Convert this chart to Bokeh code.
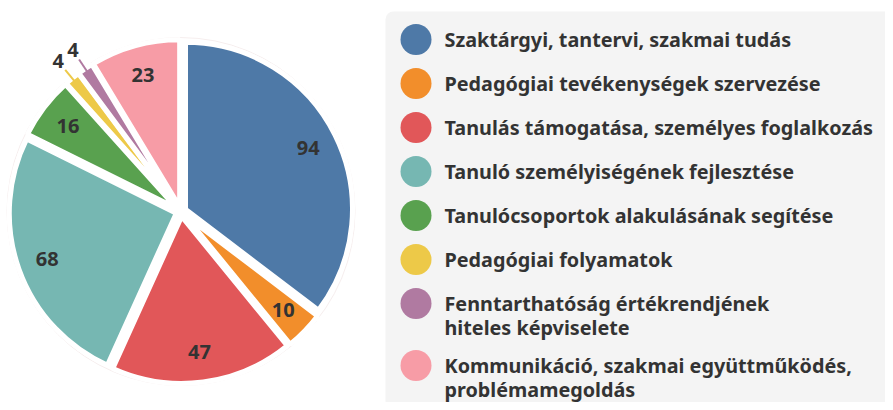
import numpy as np
from bokeh.plotting import figure
from bokeh.models import Range1d, BoxAnnotation, ColumnDataSource
from bokeh.core.properties import value
from bokeh.embed import file_html
from bokeh.resources import INLINE

categories = [
    "Szaktárgyi, tantervi, szakmai tudás",
    "Pedagógiai tevékenységek szervezése",
    "Tanulás támogatása, személyes foglalkozás",
    "Tanuló személyiségének fejlesztése",
    "Tanulócsoportok alakulásának segítése",
    "Pedagógiai folyamatok",
    "Fenntarthatóság értékrendjének\nhiteles képviselete",
    "Kommunikáció, szakmai együttműködés,\nproblémamegoldás",
]
values = [94, 10, 47, 68, 16, 4, 4, 23]
colors = ["#4e79a7", "#f28e2b", "#e15759", "#76b7b2", "#59a14f", "#edc948", "#b07aa1", "#f79ca6"]

W, H = 885, 402
p = figure(width=W, height=H, output_backend="svg", toolbar_location=None,
           x_range=Range1d(0, W), y_range=Range1d(410 - H, 410), min_border=0)
p.axis.visible = False
p.grid.visible = False
p.outline_line_color = None
p.background_fill_color = "white"

# geometry (y data = 410 - screen y)
cx, cy, R = 180.5, 410 - 211, 167
explode = 5
total = float(sum(values))
vals = np.array(values, dtype=float)
cum_end = np.cumsum(vals)
cum_start = cum_end - vals
a0 = np.pi / 2 - cum_start / total * 2 * np.pi
a1 = np.pi / 2 - cum_end / total * 2 * np.pi
mid = (a0 + a1) / 2
xs = cx + explode * np.cos(mid)
ys = cy + explode * np.sin(mid)

# faint outer ring
p.circle(x=[cx], y=[cy], radius=R + 7, fill_color=None, line_color="#f6eeee", line_width=1)

src = ColumnDataSource(dict(x=xs, y=ys, s=a0, e=a1, c=colors))
p.wedge(x="x", y="y", radius=R, start_angle="s", end_angle="e", direction="clock",
        fill_color="c", line_color="white", line_width=5, source=src)

# labels
inside = vals >= 10
lr = 142
lx = cx + lr * np.cos(mid)
ly = cy + lr * np.sin(mid)
p.text(x=lx[inside], y=ly[inside], text=[str(v) for v in np.array(values)[inside]],
       text_font=value("Noto Sans"), text_font_style="bold", text_font_size="20px",
       text_color="#333333", text_align="center", text_baseline="middle")

out = ~inside
r_lab = 194
ox = cx + r_lab * np.cos(mid[out])
oy = cy + r_lab * np.sin(mid[out])
p.text(x=ox, y=oy, text=[str(v) for v in np.array(values)[out]],
       text_font=value("Noto Sans"), text_font_style="bold", text_font_size="20px",
       text_color="#333333", text_align="center", text_baseline="middle")
oc = [c for c, o in zip(colors, out) if o]
for m, c in zip(mid[out], oc):
    p.line(x=[cx + (R + 1) * np.cos(m), cx + 183 * np.cos(m)],
           y=[cy + (R + 1) * np.sin(m), cy + 183 * np.sin(m)], line_color=c, line_width=2)

# legend box
box = BoxAnnotation(left=385, right=905, top=410 - 11, bottom=410 - 408,
                    fill_color="#f4f4f4", fill_alpha=1, line_color=None,
                    border_radius=8, level="underlay")
p.add_layout(box)

lgx, ltx = 415.5, 444
row_y = []
tx, ty, tt = [], [], []
extra = 0
for i, lab in enumerate(categories):
    yscr = 39 + 44 * i + 18 * extra
    row_y.append(410 - yscr)
    lines = lab.split("\n")
    for j, ln in enumerate(lines):
        tx.append(ltx)
        ty.append(410 - (yscr + 23.5 * j))
        tt.append(ln)
    extra += len(lines) - 1

p.scatter(x=[lgx] * len(categories), y=row_y, size=31, marker="circle",
          fill_color=colors, line_color=None)
p.text(x=tx, y=ty, text=tt, text_font=value("Noto Sans"), text_font_style="bold",
       text_font_size="19.8px", text_color="#333333", text_align="left", text_baseline="middle")

open("out.html", "w").write(file_html(p, INLINE))
